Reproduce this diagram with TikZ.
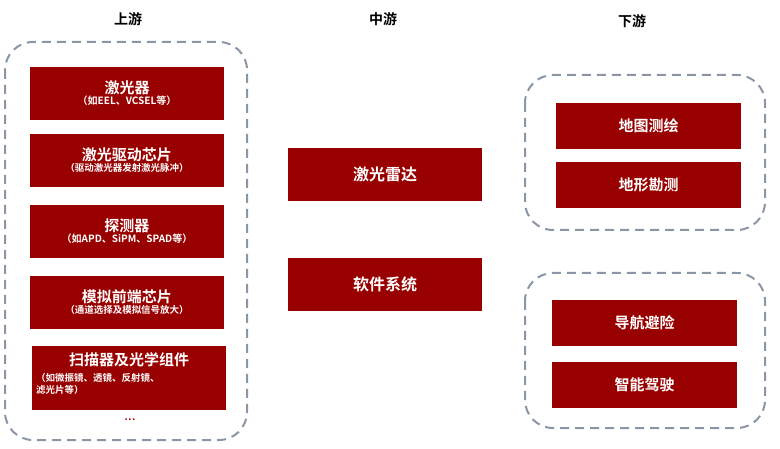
\documentclass[tikz,border=0pt]{standalone}
\usepackage{fontspec}
\setmainfont{Noto Sans CJK SC}[BoldFont={Noto Sans CJK SC Bold}]
\definecolor{dred}{HTML}{990000}
\definecolor{dgray}{HTML}{8A96A6}
\begin{document}
\begin{tikzpicture}[x=1pt,y=-1pt,
  rbox/.style={fill=dred,draw=none,text=white,font=\bfseries},
  grp/.style={draw=dgray,line width=2pt,dash pattern=on 9pt off 6pt,rounded corners=28pt},
  hdr/.style={font=\bfseries\fontsize{14}{16}\selectfont}]
\useasboundingbox (0,0) rectangle (780,449);
\draw[grp] (5,42) rectangle (247,440);
\draw[grp] (525,75) rectangle (765,230);
\draw[grp] (525,273) rectangle (765,428);
\node[hdr] (h1) at (128,19) {上游};
\node[hdr] (h2) at (383,19) {中游};
\node[hdr] (h3) at (632,21) {下游};
\newcommand{\lbox}[6]{%
 \fill[dred] (#1,#2) rectangle (#3,#4);
 \node[text=white,font=\bfseries,align=center] (#5) at ({(#1+#3)/2},{(#2+#4)/2}) {#6};}
\lbox{30}{67}{224}{120}{a1}{{\fontsize{15}{18}\selectfont 激光器}\\[-1pt]{\fontsize{10}{12}\selectfont （如EEL、VCSEL等）}}
\lbox{30}{134}{224}{187}{a2}{{\fontsize{15}{18}\selectfont 激光驱动芯片}\\[-1pt]{\fontsize{9.5}{12}\selectfont （驱动激光器发射激光脉冲）}}
\lbox{30}{205}{224}{258}{a3}{{\fontsize{15}{18}\selectfont 探测器}\\[-1pt]{\fontsize{10}{12}\selectfont （如APD、SiPM、SPAD等）}}
\lbox{30}{276}{224}{329}{a4}{{\fontsize{15}{18}\selectfont 模拟前端芯片}\\[-1pt]{\fontsize{9.5}{12}\selectfont （通道选择及模拟信号放大）}}
\fill[dred] (32,346) rectangle (226,410);
\node[text=white,font=\bfseries\fontsize{15}{18}\selectfont] (a5) at (129,360) {扫描器及光学组件};
\node[text=white,font=\bfseries\fontsize{9.5}{12}\selectfont,align=left,anchor=north west,inner sep=0pt] (a5b) at (36,373) {（如微振镜、透镜、反射镜、\\滤光片等）};
\node[text=dred,font=\bfseries] (dots) at (130,420) {…};
\lbox{288}{148}{482}{201}{m1}{\fontsize{16}{18}\selectfont 激光雷达}
\lbox{288}{258}{482}{311}{m2}{\fontsize{16}{18}\selectfont 软件系统}
\lbox{556}{103}{741}{149}{r1}{\fontsize{15}{18}\selectfont 地图测绘}
\lbox{556}{162}{741}{208}{r2}{\fontsize{15}{18}\selectfont 地形勘测}
\lbox{552}{300}{737}{346}{r3}{\fontsize{15}{18}\selectfont 导航避险}
\lbox{552}{362}{737}{408}{r4}{\fontsize{15}{18}\selectfont 智能驾驶}
\end{tikzpicture}
\end{document}
